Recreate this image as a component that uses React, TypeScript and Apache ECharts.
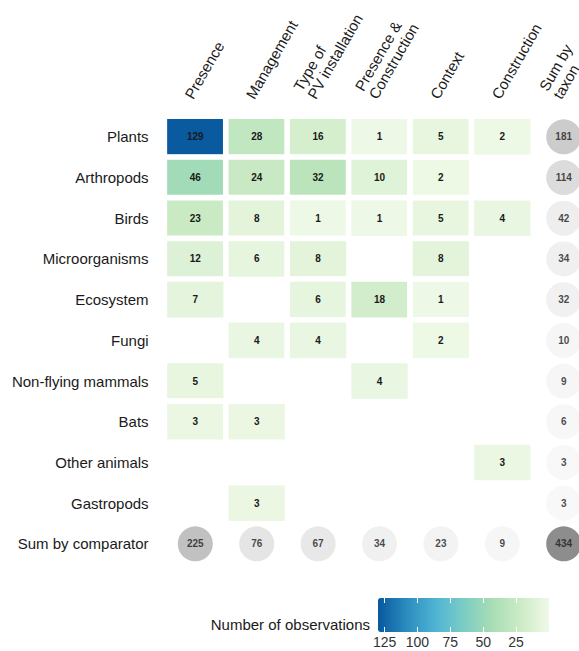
import React, { useEffect, useRef } from "react";
import * as echarts from "echarts";

const comparators = ["Presence", "Management", "Type of\nPV installation", "Presence &\nConstruction", "Context", "Construction", "Sum by\ntaxon"];
const taxa = ["Plants", "Arthropods", "Birds", "Microorganisms", "Ecosystem", "Fungi", "Non-flying mammals", "Bats", "Other animals", "Gastropods", "Sum by comparator"];

// values per taxon across the six comparators (null = no observation)
const plants = [129, 28, 16, 1, 5, 2];
const arthropods = [46, 24, 32, 10, 2, null];
const birds = [23, 8, 1, 1, 5, 4];
const microorganisms = [12, 6, 8, null, 8, null];
const ecosystem = [7, null, 6, 18, 1, null];
const fungi = [null, 4, 4, null, 2, null];
const nonFlyingMammals = [5, null, null, 4, null, null];
const bats = [3, 3, null, null, null, null];
const otherAnimals = [null, null, null, null, null, 3];
const gastropods = [null, 3, null, null, null, null];

const sumByTaxon = [181, 114, 42, 34, 32, 10, 9, 6, 3, 3];
const sumByComparator = [225, 76, 67, 34, 23, 9];
const grandTotal = 434;

const legendTicks = [125, 100, 75, 50, 25];
const gnbu = ["#f0f9e8", "#ccebc5", "#a8ddb5", "#7bccc4", "#4eb3d3", "#2b8cbe", "#08589e"];

const FONT = "'Liberation Sans', Arial, sans-serif";

export default function App() {
  const ref = useRef<HTMLDivElement>(null);
  useEffect(() => {
    if (!ref.current) return;
    const chart = echarts.init(ref.current, undefined, { renderer: "svg" });
    const rows = [plants, arthropods, birds, microorganisms, ecosystem, fungi, nonFlyingMammals, bats, otherAnimals, gastropods];
    const heat: number[][] = [];
    rows.forEach((r, yi) => r.forEach((v, xi) => { if (v != null) heat.push([xi, yi, v]); }));
    const sums: number[][] = [];
    sumByTaxon.forEach((v, yi) => sums.push([6, yi, v]));
    sumByComparator.forEach((v, xi) => sums.push([xi, 10, v]));
    sums.push([6, 10, grandTotal]);

    const colW = 61.4, rowH = 40.7;
    const option: any = {
      animation: false,
      backgroundColor: "#ffffff",
      textStyle: { fontFamily: FONT },
      grid: [
        { left: 164.6, top: 116.5, width: colW * 7, height: rowH * 11, outerBoundsMode: "none", containLabel: false },
        { left: 378, top: 598, width: 171, height: 34, outerBoundsMode: "none", containLabel: false },
      ],
      xAxis: [
        {
          gridIndex: 0, type: "category", position: "top", data: comparators,
          axisLine: { show: false }, axisTick: { show: false }, splitLine: { show: false },
          axisLabel: {
            interval: 0, rotate: -60, fontSize: 15, color: "#1a1a1a", fontFamily: FONT,
            verticalAlign: "bottom", lineHeight: 16, margin: 15, padding: [0, 0, 0, 0],
          },
        },
        {
          gridIndex: 1, type: "value", position: "bottom", min: 0, max: 130, inverse: true, z: 10,
          axisLine: { show: false }, splitLine: { show: false },
          axisTick: { show: true, inside: true, length: 5, customValues: legendTicks, lineStyle: { color: "#ffffff", width: 1 } },
          axisLabel: { customValues: legendTicks, fontSize: 14, lineHeight: 14, color: "#333333", margin: 3, fontFamily: FONT },
        },
        {
          gridIndex: 1, type: "value", position: "top", min: 0, max: 130, inverse: true, z: 10,
          axisLine: { show: false }, splitLine: { show: false },
          axisTick: { show: true, inside: true, length: 5, customValues: legendTicks, lineStyle: { color: "#ffffff", width: 1 } },
          axisLabel: { show: false },
        },
      ],
      yAxis: [
        {
          gridIndex: 0, type: "category", inverse: true, data: taxa,
          axisLine: { show: false }, axisTick: { show: false }, splitLine: { show: false },
          axisLabel: { fontSize: 15, color: "#1a1a1a", margin: 16, fontFamily: FONT },
        },
        { gridIndex: 1, type: "value", show: false, min: 0, max: 1 },
      ],
      visualMap: [
        {
          type: "continuous", seriesIndex: 0, dimension: 2, min: 0, max: 130,
          orient: "horizontal", inverse: true, left: 378, top: 598, itemWidth: 34, itemHeight: 171,
          padding: 0, calculable: false, hoverLink: false, text: null, showLabel: false,
          inRange: { color: gnbu },
        },
        {
          type: "continuous", seriesIndex: 1, dimension: 2, min: 3, max: 434, show: false,
          inRange: { color: ["#f6f6f6", "#707070"] },
        },
      ],
      graphic: [
        {
          type: "text", right: 579 - 370, top: 617,
          style: { text: "Number of observations", fontSize: 15, fill: "#1a1a1a", fontFamily: FONT },
        },
      ],
      series: [
        {
          type: "heatmap", xAxisIndex: 0, yAxisIndex: 0, data: heat,
          itemStyle: { borderColor: "#ffffff", borderWidth: 5.6 },
          label: { show: true, formatter: (p: any) => String(p.value[2]), fontSize: 10, fontWeight: "bold", color: "#1a1a1a", fontFamily: FONT },
          emphasis: { disabled: true },
        },
        {
          type: "scatter", xAxisIndex: 0, yAxisIndex: 0, data: sums, symbol: "circle", symbolSize: 35,
          label: { show: true, position: "inside", formatter: (p: any) => String(p.value[2]), fontSize: 10, fontWeight: "bold", color: "#1a1a1a", fontFamily: FONT },
          emphasis: { disabled: true },
        },
      ],
    };
    chart.setOption(option);
    return () => chart.dispose();
  }, []);
  return <div ref={ref} style={{ position: "fixed", left: 0, top: 0, width: 579, height: 651 }} />;
}
